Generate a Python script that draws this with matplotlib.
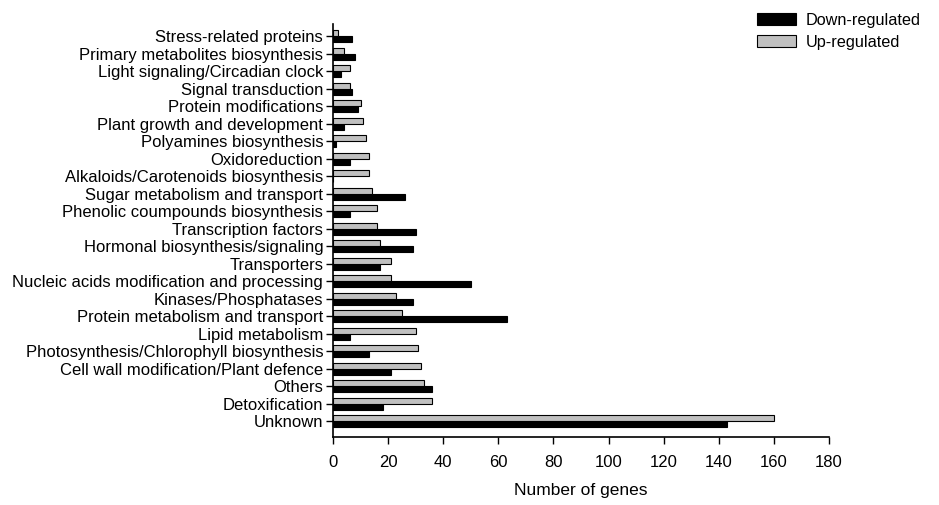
import matplotlib
matplotlib.use("Agg")
import matplotlib.pyplot as plt
import numpy as np

plt.rcParams['font.family'] = ['Liberation Sans', 'DejaVu Sans']

categories = [
    "Stress-related proteins",
    "Primary metabolites biosynthesis",
    "Light signaling/Circadian clock",
    "Signal transduction",
    "Protein modifications",
    "Plant growth and development",
    "Polyamines biosynthesis",
    "Oxidoreduction",
    "Alkaloids/Carotenoids biosynthesis",
    "Sugar metabolism and transport",
    "Phenolic coumpounds biosynthesis",
    "Transcription factors",
    "Hormonal biosynthesis/signaling",
    "Transporters",
    "Nucleic acids modification and processing",
    "Kinases/Phosphatases",
    "Protein metabolism and transport",
    "Lipid metabolism",
    "Photosynthesis/Chlorophyll biosynthesis",
    "Cell wall modification/Plant defence",
    "Others",
    "Detoxification",
    "Unknown",
]
down_regulated = [7, 8, 3, 7, 9, 4, 1, 6, 0, 26, 6, 30, 29, 17, 50, 29, 63, 6, 13, 21, 36, 18, 143]
up_regulated = [2, 4, 6, 6, 10, 11, 12, 13, 13, 14, 16, 16, 17, 21, 21, 23, 25, 30, 31, 32, 33, 36, 160]
x_ticks = [0, 20, 40, 60, 80, 100, 120, 140, 160, 180]

fig = plt.figure(figsize=(9.39, 5.05), dpi=100)
ax = fig.add_axes([0.3546, 0.1347, 0.5283, 0.8178])

n = len(categories)
pos = np.arange(n)[::-1]  # first category at top
h = 0.34
ax.barh(pos - h / 2, down_regulated, height=h, color='black', edgecolor='black',
        linewidth=0.8, label='Down-regulated')
ax.barh(pos + h / 2, up_regulated, height=h, color='#c0c0c0', edgecolor='black',
        linewidth=0.8, label='Up-regulated')

ax.set_yticks(pos)
ax.set_yticklabels(categories, fontsize=12)
ax.set_ylim(-0.9, n - 1 + 0.7)
ax.set_xlim(0, 180)
ax.set_xticks(x_ticks)
ax.tick_params(axis='x', labelsize=12, direction='out', length=5, width=1, pad=8)
ax.tick_params(axis='y', direction='out', length=5, width=1, pad=2)
for s in ['top', 'right']:
    ax.spines[s].set_visible(False)
for s in ['left', 'bottom']:
    ax.spines[s].set_linewidth(1.2)

ax.set_xlabel("Number of genes", fontsize=12.5, labelpad=9)

fig.legend(*ax.get_legend_handles_labels(), loc='upper right',
           bbox_to_anchor=(921 / 939, 1 - 13 / 505), frameon=False, fontsize=11.7,
           handlelength=2.4, handleheight=0.75, handletextpad=0.6, labelspacing=0.4,
           borderpad=0, borderaxespad=0)

fig.savefig("out.png", dpi=100)
